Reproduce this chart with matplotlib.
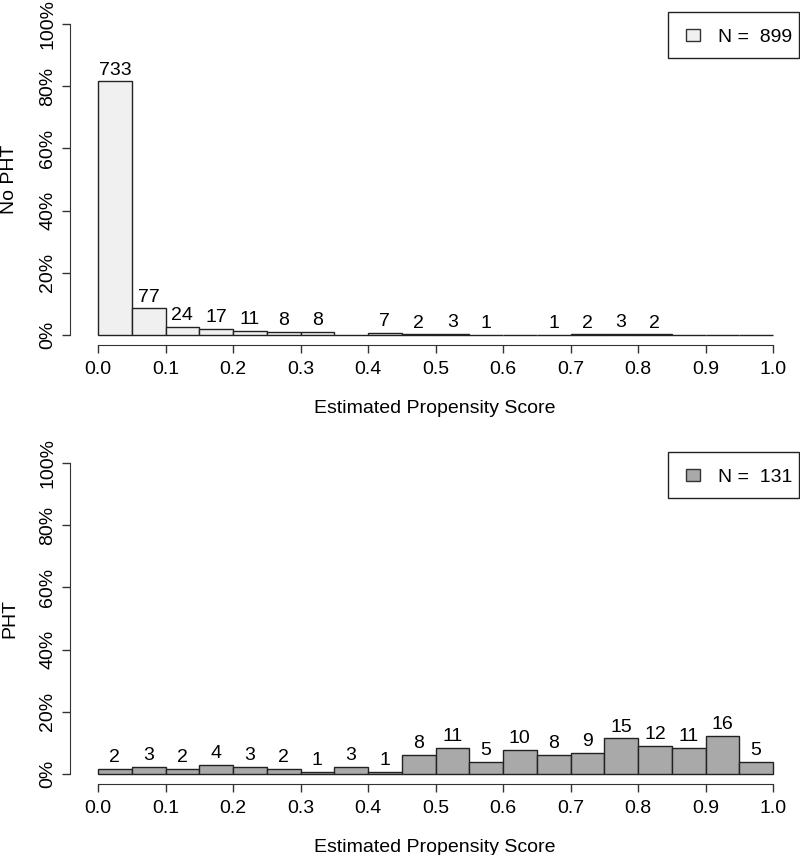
import numpy as np
import matplotlib
matplotlib.use("Agg")
import matplotlib.pyplot as plt
from matplotlib.patches import Rectangle

plt.rcParams['font.family'] = ['Liberation Sans', 'DejaVu Sans']

# histogram bins of width 0.05 on [0, 1]
bin_edges = np.round(np.arange(0, 1.0001, 0.05), 2)
no_pht_counts = [733, 77, 24, 17, 11, 8, 8, 0, 7, 2, 3, 1, 0, 1, 2, 3, 2, 0, 0, 0]
pht_counts = [2, 3, 2, 4, 3, 2, 1, 3, 1, 8, 11, 5, 10, 8, 9, 15, 12, 11, 16, 5]
group_labels = ["No PHT", "PHT"]
bar_colors = ["#f0f0f0", "#a9a9a9"]
x_ticks = np.round(np.arange(0, 1.0001, 0.1), 1)
y_ticks = [0, 0.2, 0.4, 0.6, 0.8, 1.0]
y_tick_labels = ["0%", "20%", "40%", "60%", "80%", "100%"]

W, H = 800, 855
FS = 14
fig = plt.figure(figsize=(W / 100, H / 100), dpi=100)

# panel positions in pixels: (x of 0, x of 1, y of 0%, y of 100%)
panels = [(98, 773, 335, 24), (98, 773, 774, 463)]
legend_tops = [12, 452]


def fx(px):
    return px / W


def fy(py):
    return 1 - py / H


def draw_panel(ax, counts, color, ylabel, y0, y1, legend_top):
    counts = np.array(counts)
    n = counts.sum()
    share = counts / n
    lefts = bin_edges[:-1]
    width = bin_edges[1] - bin_edges[0]
    ax.bar(lefts, share, width=width, align='edge', color=color,
           edgecolor='#222222', linewidth=1.0, clip_on=False)
    for x, s, c in zip(lefts, share, counts):
        if c > 0:
            ax.annotate(str(c), (x + width / 2, s), xytext=(0, 2),
                        textcoords='offset points', ha='center', va='bottom',
                        fontsize=FS)

    ax.set_xlim(0, 1)
    ax.set_ylim(0, 1)
    for side in ['top', 'right']:
        ax.spines[side].set_visible(False)
    ax.spines['left'].set_position(('outward', 20))
    ax.spines['bottom'].set_position(('outward', 7))
    ax.spines['left'].set_bounds(0, 1)
    ax.spines['bottom'].set_bounds(0, 1)
    for side in ['left', 'bottom']:
        ax.spines[side].set_color('#333333')
    ax.set_xticks(x_ticks)
    ax.set_xticklabels([f"{t:.1f}" for t in x_ticks], fontsize=FS)
    ax.set_yticks(y_ticks)
    ax.set_yticklabels(y_tick_labels, fontsize=FS, rotation=90, va='center')
    ax.tick_params(length=6, width=1, color='#333333', pad=4)
    ax.tick_params(axis='x', pad=6)

    # axis titles
    fig.text(fx(435), fy(y0 + 78), "Estimated Propensity Score",
             ha='center', va='baseline', fontsize=FS)
    fig.text(fx(10), fy((y0 + y1) / 2), ylabel, rotation=90,
             ha='center', va='center', fontsize=FS)

    # legend box drawn like R's legend()
    top, bottom = legend_top, legend_top + 46
    fig.patches.append(Rectangle((fx(668), fy(bottom)), fx(799) - fx(668),
                                 fy(top) - fy(bottom), transform=fig.transFigure,
                                 facecolor='white', edgecolor='#222222', lw=1))
    mid = (top + bottom) / 2
    fig.patches.append(Rectangle((fx(686), fy(mid + 6)), fx(700) - fx(686),
                                 fy(mid - 6) - fy(mid + 6), transform=fig.transFigure,
                                 facecolor=color, edgecolor='#333333', lw=1))
    fig.text(fx(718), fy(mid), f"N =  {n}", ha='left', va='center_baseline',
             fontsize=FS)


for (x0, x1, y0, y1), counts, color, label, lt in zip(
        panels, [no_pht_counts, pht_counts], bar_colors, group_labels, legend_tops):
    ax = fig.add_axes([x0 / W, 1 - y0 / H, (x1 - x0) / W, (y0 - y1) / H])
    draw_panel(ax, counts, color, label, y0, y1, lt)

fig.savefig("out.png", dpi=100)
